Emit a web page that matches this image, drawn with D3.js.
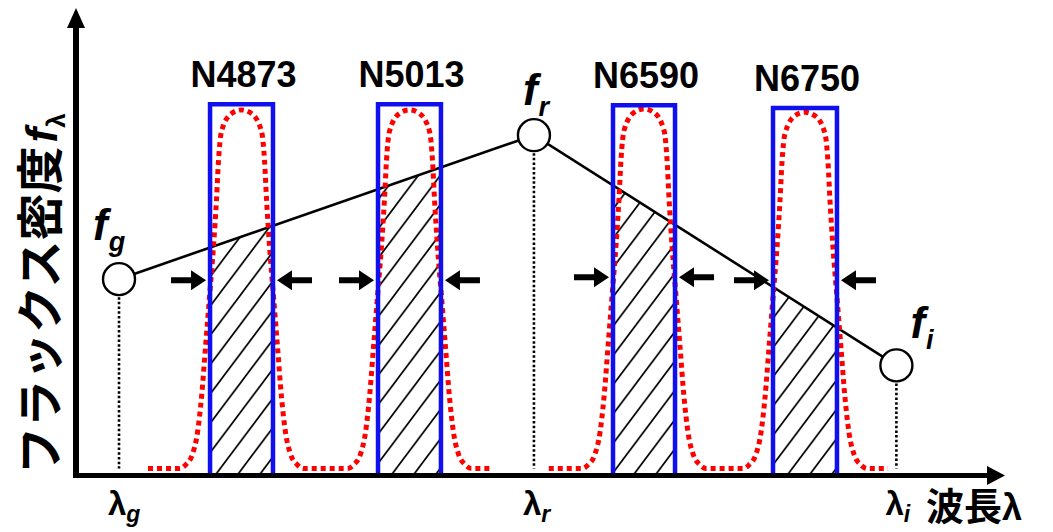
<!DOCTYPE html>
<html>
<head>
<meta charset="utf-8">
<script src="https://cdn.jsdelivr.net/npm/d3@7"></script>
<style>
body { margin: 0; background: #fff; }
text { font-family: "Liberation Sans", Arial, sans-serif; font-weight: bold; }
</style>
</head>
<body>
<svg id="chart" width="1053" height="532"></svg>
<script>
// schematic units: x 0..100 along wavelength, y 0..100 flux density
var filterNames = ["N4873", "N5013", "N6590", "N6750"];
var filterLeft  = [14.46, 32.58, 57.93, 75.19];
var filterRight = [21.25, 39.37, 64.62, 82.09];
var filterTop   = [79.4, 79.4, 79.2, 78.6];
var arrowLevel  = [41.75, 41.75, 42.4, 41.75];

var pointNames  = ["g", "r", "i"];
var pointLambda = [4.64, 49.4, 88.5];
var pointFlux   = [42.0, 72.8, 23.55];

// dotted red transmission curves
var curvePeak = [78.2, 78.2, 78.4, 77.7];
var curveBase = 1.5;
var profileOffset = [0, 1.08, 2.16, 2.48, 2.7, 3.02, 3.45, 3.88, 4.31, 4.75, 5.29, 6.04, 6.69];
var profileLevel  = [1, 0.99, 0.94, 0.86, 0.75, 0.62, 0.48, 0.34, 0.2, 0.1, 0.04, 0.01, 0];
var curveRuns = [[0, 1], [2, 3]];
var runStart  = [7.77, 51.0];
var runEnd    = [44.66, 87.6];

var svg = d3.select("#chart");
var x = d3.scaleLinear().domain([0, 100]).range([76, 1003]);
var y = d3.scaleLinear().domain([0, 100]).range([475.5, 8]);
// the f_g - f_r - f_i polyline as a piecewise scale
var flux = d3.scaleLinear().domain(pointLambda).range(pointFlux);

var defs = svg.append("defs");
var pat = defs.append("pattern").attr("id", "hatch")
  .attr("patternUnits", "userSpaceOnUse").attr("width", 22).attr("height", 29.3);
pat.append("path")
  .attr("d", "M-2,31.96L24,-2.66M20,31.96L24,26.64M-2,2.66L2,-2.66")
  .attr("stroke", "#000").attr("stroke-width", 1.7).attr("fill", "none");

// hatched area under the line inside each filter
svg.selectAll(".hatch").data(filterNames).enter().append("path")
  .attr("class", "hatch")
  .attr("d", function(d, i) {
    var L = filterLeft[i], R = filterRight[i];
    return d3.line()([[x(L), y(0)], [x(L), y(flux(L))], [x(R), y(flux(R))], [x(R), y(0)]]) + "Z";
  })
  .attr("fill", "url(#hatch)");

// connecting line
svg.append("path")
  .attr("d", d3.line()(pointLambda.map(function(l, i) { return [x(l), y(pointFlux[i])]; })))
  .attr("fill", "none").attr("stroke", "#000").attr("stroke-width", 2.6);

// red dotted curves
var redLine = d3.line().curve(d3.curveMonotoneX);
curveRuns.forEach(function(run, r) {
  var pts = [[runStart[r], curveBase]];
  run.forEach(function(f) {
    var c = (filterLeft[f] + filterRight[f]) / 2;
    var pk = curvePeak[f];
    for (var k = profileOffset.length - 1; k >= 0; k--)
      pts.push([c - profileOffset[k], curveBase + (pk - curveBase) * profileLevel[k]]);
    for (var k = 1; k < profileOffset.length; k++)
      pts.push([c + profileOffset[k], curveBase + (pk - curveBase) * profileLevel[k]]);
  });
  pts.push([runEnd[r], curveBase]);
  svg.append("path")
    .attr("d", redLine(pts.map(function(p) { return [x(p[0]), y(p[1])]; })))
    .attr("fill", "none").attr("stroke", "#f00").attr("stroke-width", 5)
    .attr("stroke-dasharray", "5,4");
});

// blue filter boxes
svg.selectAll(".filter").data(filterNames).enter().append("path")
  .attr("class", "filter")
  .attr("d", function(d, i) {
    return d3.line()([[x(filterLeft[i]), y(0)], [x(filterLeft[i]), y(filterTop[i])],
      [x(filterRight[i]), y(filterTop[i])], [x(filterRight[i]), y(0)]]);
  })
  .attr("fill", "none").attr("stroke", "#1010ee").attr("stroke-width", 4.5);

svg.selectAll(".fname").data(filterNames).enter().append("text")
  .attr("class", "fname")
  .attr("x", function(d, i) { return x((filterLeft[i] + filterRight[i]) / 2) + 2; })
  .attr("y", function(d, i) { return y(filterTop[i]) - 17; })
  .attr("text-anchor", "middle").style("font-size", "36px")
  .text(function(d) { return d; });

// width arrows
var arrowShape = "M0,0L-15,-10L-15,-3L-35,-3L-35,3L-15,3L-15,10Z";
filterNames.forEach(function(d, i) {
  var ay = y(arrowLevel[i]);
  svg.append("path").attr("d", arrowShape)
    .attr("transform", "translate(" + (x(filterLeft[i]) - 4) + "," + ay + ")");
  svg.append("path").attr("d", arrowShape)
    .attr("transform", "translate(" + (x(filterRight[i]) + 4) + "," + ay + ") scale(-1,1)");
});

// dotted drop lines, circles, labels
pointNames.forEach(function(n, i) {
  var cx = x(pointLambda[i]), cy = y(pointFlux[i]);
  svg.append("line").attr("x1", cx).attr("x2", cx).attr("y1", cy + 18).attr("y2", y(0) - 7)
    .attr("stroke", "#000").attr("stroke-width", 2.6).attr("stroke-dasharray", "2.5,2.2");
  svg.append("circle").attr("cx", cx).attr("cy", cy).attr("r", 16)
    .attr("fill", "#fff").attr("stroke", "#000").attr("stroke-width", 2.4);
});

var fOffset = [[-26, -39], [-11, -30], [14, -27]];
pointNames.forEach(function(n, i) {
  var t = svg.append("text")
    .attr("x", x(pointLambda[i]) + fOffset[i][0])
    .attr("y", y(pointFlux[i]) + fOffset[i][1])
    .style("font-style", "italic");
  t.append("tspan").style("font-size", "44px").text("f");
  t.append("tspan").style("font-size", "27px").attr("dx", 1).attr("dy", 11).text(n);
});

pointNames.forEach(function(n, i) {
  var t = svg.append("text").attr("x", x(pointLambda[i]) - 11).attr("y", 515);
  t.append("tspan").style("font-size", "33px").text("λ");
  t.append("tspan").style("font-size", "23px").style("font-style", "italic")
    .attr("dy", 7).text(n);
});

svg.append("text").attr("x", 926).attr("y", 520)
  .style("font-family", "'Noto Sans CJK JP'").style("font-size", "38px").text("波長")
  .append("tspan").style("font-family", "'Liberation Sans', Arial").style("font-size", "36px").text("λ");

// axes
svg.append("line").attr("x1", x(0) - 3).attr("x2", x(100) - 14).attr("y1", y(0)).attr("y2", y(0))
  .attr("stroke", "#000").attr("stroke-width", 5);
svg.append("path").attr("d", d3.line()([[x(100) + 2, y(0)], [x(100) - 16, y(0) - 9.5], [x(100) - 16, y(0) + 9.5]]) + "Z");
svg.append("line").attr("x1", x(0)).attr("x2", x(0)).attr("y1", y(0) + 2.5).attr("y2", y(100) + 18)
  .attr("stroke", "#000").attr("stroke-width", 6);
svg.append("path").attr("d", d3.line()([[x(0), y(100)], [x(0) - 9, y(100) + 20], [x(0) + 9, y(100) + 20]]) + "Z");

var yl = svg.append("text").attr("transform", "translate(57,474) rotate(-90)");
yl.append("tspan").style("font-family", "'Noto Sans CJK JP'").style("font-size", "47px").text("フラックス密度");
yl.append("tspan").style("font-size", "44px").style("font-style", "italic").attr("dx", 4).text("f");
yl.append("tspan").style("font-size", "26px").attr("dy", 8).text("λ");
</script>
</body>
</html>
